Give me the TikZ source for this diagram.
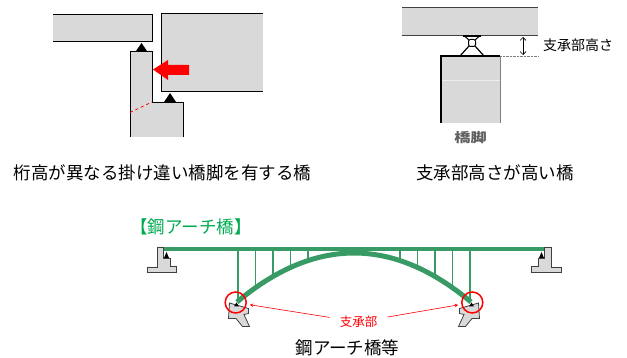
\documentclass[tikz,border=0pt]{standalone}
\usepackage{fontspec}
\setmainfont{Noto Sans CJK JP}
\usetikzlibrary{arrows.meta}
\definecolor{deckgreen}{RGB}{56,154,100}
\definecolor{titlegreen}{RGB}{0,170,80}
\definecolor{concrete}{RGB}{217,217,217}
\definecolor{edge}{RGB}{64,64,64}
\begin{document}
\begin{tikzpicture}[x=1pt,y=-1pt,>=stealth,
	block/.style={fill=concrete,draw=edge,line width=0.8pt},
	caption/.style={font=\fontsize{17.5}{20}\selectfont,inner sep=0pt},
	steel/.style={deckgreen,line width=#1}]
	\useasboundingbox (0,0) rectangle (627,358);
	% 掛け違い橋脚
	\fill[concrete] (53,14) rectangle (152,41);
	\draw (53,14) -- (152,14) -- (152,41) -- (53,41);
	\fill[concrete] (161,13) rectangle (263,91);
	\draw (263,13) -- (161,13) -- (161,91) -- (263,91);
	\fill[concrete] (130,137) -- (130,51) -- (152,51) -- (152,102) -- (183,102) -- (183,137) -- cycle;
	\draw (130,137) -- (130,51) -- (152,51) -- (152,102) -- (183,102) -- (183,137);
	\fill (136,51) -- (147,51) -- (141.5,43) -- cycle;
	\fill (164,102) -- (176,102) -- (170,93) -- cycle;
	\fill[red] (153,69.5) -- (168,60) -- (168,65) -- (189,65) -- (189,75) -- (168,75) -- (168,80) -- cycle;
	\draw[red,dashed,line width=0.8pt] (130,112.5) -- (152,102);
	\node[caption] (capA) at (162.5,173) {桁高が異なる掛け違い橋脚を有する橋};
	% 支承部高さ
	\fill[concrete] (402,7) rectangle (538,35);
	\draw[edge] (402,7) -- (538,7) (402,35) -- (538,35);
	\fill[concrete] (441,56) rectangle (500,123);
	\draw[white!55!concrete] (441,80) -- (500,80);
	\draw[gray] (500,56) -- (500,123);
	\draw[line width=1.2pt] (441,123) -- (441,56) -- (500,56);
	\draw[line width=1.3pt] (463,36) -- (481,36);
	\draw[line width=1pt] (465,36.5) -- (469,40) (479,36.5) -- (475,40);
	\draw[line width=1.2pt] (469,46) -- (460,56) (475,46) -- (484,56);
	\draw[line width=1pt,fill=white,rounded corners=1.5pt] (468.5,39.5) rectangle (475.5,46.5);
	\draw[gray,densely dotted] (500,56) -- (538,56);
	\coordinate (hTop) at (523,37);
	\coordinate (hBot) at (523,55);
	\draw[{Straight Barb[length=3pt,width=6pt]}-{Straight Barb[length=3pt,width=6pt]},line width=0.7pt] (hTop) -- (hBot);
	\node[font=\fontsize{14}{16}\selectfont,inner sep=0pt] (hLabel) at (578,45) {支承部高さ};
	\node[font=\fontsize{13}{15}\selectfont\bfseries,text=gray!75!black,inner sep=0pt] (pier) at (470.5,138) {\scalebox{1.25}[1]{橋脚}};
	\node[caption] (capB) at (495,173) {支承部高さが高い橋};
	% 鋼アーチ橋
	\node[caption,text=titlegreen] (title) at (191,227) {【鋼アーチ橋】};
	\foreach \s/\m in {0/1,708/-1}{
		\begin{scope}[xshift=\s pt,xscale=\m]
			\draw[block] (157,247) -- (163.3,247) -- (163.3,258) -- (170,258) -- (170,266) -- (176.5,266) -- (176.5,272) -- (147,272) -- (147,267) -- (157,267) -- cycle;
			\fill (164,258) -- (169,258) -- (166.5,252) -- cycle;
			\draw[block] (229.5,303) -- (248.5,308.5) -- (248.5,313.5) -- (244,314.5) -- (249.5,326.5) -- (242.5,326.5) -- (236,318.5) -- (228.5,318.5) -- cycle;
		\end{scope}
	}
	\foreach \d in {46,63.5,81,98.5,116}{
		\pgfmathsetmacro\yb{302-49*(1-(\d/117)^2)}
		\draw[steel=1.8pt] (354-\d,249) -- (354-\d,\yb);
		\draw[steel=1.8pt] (354+\d,249) -- (354+\d,\yb);
	}
	\draw[steel=5pt] (237,302) .. controls (315,236.7) and (393,236.7) .. (471,302);
	\draw[steel=4.5pt] (164,249) -- (544,249);
	\foreach \s/\m in {0/1,708/-1}{
		\begin{scope}[xshift=\s pt,xscale=\m]
			\fill (234,306.5) -- (239,306.5) -- (236.5,302.5) -- cycle;
		\end{scope}
	}
	\node[circle,draw=red,line width=1.5pt,minimum size=21pt,inner sep=0pt] (shoeL) at (235.7,302.5) {};
	\node[circle,draw=red,line width=1.5pt,minimum size=21pt,inner sep=0pt] (shoeR) at (472.3,302.5) {};
	\node[text=red,font=\fontsize{12.5}{14}\selectfont,inner sep=0pt] (shoeLabel) at (358.5,322) {支承部};
	\draw[->,red,line width=0.6pt,shorten <=10pt,shorten >=3pt] (shoeLabel) -- (shoeL);
	\draw[->,red,line width=0.6pt,shorten <=10pt,shorten >=3pt] (shoeLabel) -- (shoeR);
	\node[caption] (capC) at (347.5,347.5) {鋼アーチ橋等};
\end{tikzpicture}
\end{document}
